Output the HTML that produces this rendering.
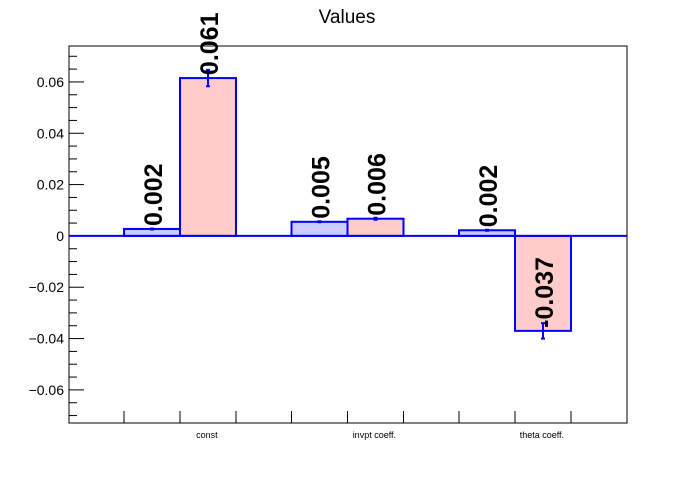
<!DOCTYPE html>
<html><head><meta charset="utf-8"><style>
body{margin:0;background:#fff}
svg text{font-family:"Liberation Sans",sans-serif}
</style></head><body>
<svg id="c" width="696" height="472" xmlns="http://www.w3.org/2000/svg">
<rect width="696" height="472" fill="#fff"/>
<text x="347" y="23" font-size="19" text-anchor="middle">Values</text>
<g id="g"></g>
</svg>
<script>
const categories=["const","invpt coeff.","theta coeff."];
const seriesA=[0.0027,0.0055,0.0022];
const seriesAErr=[0.0002,0.0002,0.0002];
const seriesALabels=["0.002","0.005","0.002"];
const seriesB=[0.0615,0.0067,-0.037];
const seriesBErr=[0.0032,0.0004,0.003];
const seriesBLabels=["0.061","0.006","-0.037"];
const yTicks=[-0.06,-0.04,-0.02,0,0.02,0.04,0.06];
const yTickLabels=["\u22120.06","\u22120.04","\u22120.02","0","0.02","0.04","0.06"];

const L=69,R=627,T=46,B=423,yMin=-0.0729,yMax=0.074;
const X0=124,PITCH=167.5,BW=56;
const ns="http://www.w3.org/2000/svg";
const g=document.getElementById('g');
function y(v){return B-(v-yMin)/(yMax-yMin)*(B-T);}
function x(i,f){return X0+PITCH*i+BW*f;}
function mk(t,a){const e=document.createElementNS(ns,t);for(const k in a)e.setAttribute(k,a[k]);g.appendChild(e);return e;}

let fr=mk('rect',{x:L,y:T,width:R-L,height:B-T,fill:'none',stroke:'#000','stroke-width':1});



for(let k=-14;k<=14;k++){
  const vv=k*0.005;
  const major=(k%4===0);
  const t=mk('line',{x1:L,x2:L+(major?15:8),y1:y(vv),y2:y(vv),stroke:'#000'});
  
  
}
yTicks.forEach((v,i)=>{
  const t=mk('text',{x:64,y:y(v)+5,'font-size':14,'text-anchor':'end'});
  t.textContent=yTickLabels[i];
  
  
});

categories.forEach((c,i)=>{
  [0,1,2].forEach(f=>{
    const t=mk('line',{x1:x(i,f),x2:x(i,f),y1:B,y2:B-12,stroke:'#000'});
    
    
  });
  const t=mk('text',{x:x(i,1.48),y:438,'font-size':9,'text-anchor':'middle'});
  t.textContent=c;
  
  
});

function drawSeries(vals,errs,labels,f0,fill,name){
  vals.forEach((v,i)=>{
    const x0=x(i,f0),x1=x(i,f0+1);
    const r=mk('rect',{x:x0,y:Math.min(y(v),y(0)),width:x1-x0,height:Math.abs(y(v)-y(0)),fill:fill,stroke:'#00f','stroke-width':2});
    
    
    const cx=(x0+x1)/2;
    const e=mk('path',{d:`M${cx},${y(v+errs[i])}V${y(v-errs[i])}M${cx-2},${y(v+errs[i])}h4M${cx-2},${y(v-errs[i])}h4`,stroke:'#00f','stroke-width':2,fill:'none'});
    
    
    const ly=y(v)-3;
    const t=mk('text',{x:0,y:0,'font-size':25,'font-weight':'bold','text-anchor':'start','dominant-baseline':'central',transform:`translate(${cx+2},${ly}) rotate(-90)`});
    t.textContent=labels[i];
    
    
  });
}
drawSeries(seriesA,seriesAErr,seriesALabels,0,'#ccccff','series-a');
drawSeries(seriesB,seriesBErr,seriesBLabels,1,'#ffcccc','series-b');

const z=mk('line',{x1:L,x2:R,y1:y(0),y2:y(0),stroke:'#00f','stroke-width':2});


</script>
</body></html>
